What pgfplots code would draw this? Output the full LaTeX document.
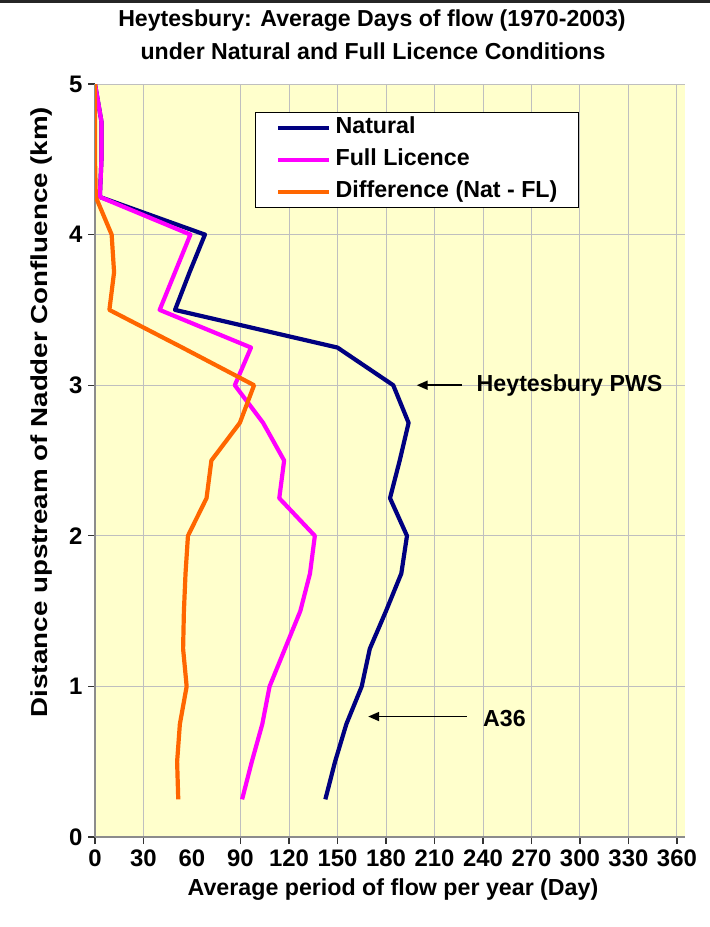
\documentclass[border=0pt]{standalone}
\usepackage{fontspec}
\setmainfont{Liberation Sans}
\usepackage{pgfplots}
\pgfplotsset{compat=1.18}
\usetikzlibrary{arrows.meta}
\definecolor{natc}{HTML}{000080}
\definecolor{flc}{HTML}{FF00FF}
\definecolor{difc}{HTML}{FF6600}
\definecolor{bgc}{HTML}{FFFFCC}
\newcommand\ff[1]{\fontsize{#1}{#1}\selectfont\bfseries}
\begin{document}
\begin{tikzpicture}[x=1bp,y=1bp]
\path[use as bounding box] (0,0) rectangle (710,-927);
\fill[black!85] (0,0) rectangle (710,-3);
\node[font=\ff{23.2}] at (372,-21) {Heytesbury: Average Days of flow (1970-2003)};
\node[font=\ff{23.2}] at (373,-51) {under Natural and Full Licence Conditions};
\node[font=\ff{23.2}, inner sep=0pt] at (42,-412) {\rotatebox{90}{\scalebox{1.2}[1]{Distance upstream of Nadder Confluence (km)}}};
\node[font=\ff{23.3}] at (393,-890) {Average period of flow per year (Day)};
\begin{axis}[
  at={(95bp,-837bp)}, anchor=south west,
  scale only axis, width=590bp, height=753bp,
  xmin=0, xmax=365, ymin=0, ymax=5,
  xtick={0,30,90,120,150,180,210,240,270,300,330,360},
  extra x ticks={60},
  extra x tick style={grid=none, tick style={draw=none}},
  ytick={0,1,2,3,4,5},
  grid=major,
  major grid style={black!25, line width=0.9bp},
  axis background/.style={fill=bgc},
  axis x line*=bottom, axis y line*=left,
  axis line style={black!45, line width=1.2bp},
  tick align=outside,
  major tick length=7bp,
  tick style={black!80, line width=1.2bp},
  ticklabel style={font=\ff{24}},
  /pgf/number format/assume math mode=true,
  xticklabel style={yshift=-2bp},
  yticklabel style={xshift=-2bp},
  legend style={at={(rel axis cs:0.271,0.9628)}, anchor=north west,
    draw=black, line width=1bp, fill=white, font=\ff{23.3},
    inner xsep=21bp, inner ysep=4bp, row sep=9bp, column sep=4bp,
    nodes={inner sep=0bp, text height=17bp, text depth=6bp}},
  legend cell align=left,
  legend image code/.code={\draw[#1, line width=4.2bp] (0bp,0bp) -- (51bp,0bp);},
]
\addplot[natc, line width=4.2bp, line join=round] coordinates {
(0,5) (4,4.75) (4,4.5) (3,4.25) (68,4) (58.5,3.75) (49.5,3.5) (150,3.25)
(184.5,3) (194,2.75) (188.5,2.5) (182.5,2.25) (193,2) (189.5,1.75) (180,1.5)
(170,1.25) (165,1) (155.5,0.75) (148.5,0.5) (142.5,0.25)};
\addlegendentry{Natural}
\addplot[flc, line width=4.2bp, line join=round] coordinates {
(0,5) (4,4.75) (4,4.5) (3,4.25) (59,4) (49.5,3.75) (40,3.5) (96.5,3.25)
(86.5,3) (104,2.75) (117,2.5) (114,2.25) (136,2) (133,1.75) (127,1.5)
(117.5,1.25) (108,1) (103.5,0.75) (97,0.5) (91,0.25)};
\addlegendentry{Full Licence}
\addplot[difc, line width=4.2bp, line join=round] coordinates {
(0,5) (0,4.75) (0,4.5) (0.5,4.25) (10.3,4) (11.8,3.75) (8.9,3.5) (54,3.25)
(98.4,3) (89.6,2.75) (72,2.5) (69,2.25) (57.5,2) (56,1.75) (55,1.5)
(54.5,1.25) (56.7,1) (52.5,0.75) (50.8,0.5) (51.5,0.25)};
\addlegendentry{Difference (Nat - FL)}
\draw[-{Triangle[length=11bp,width=9bp]}, line width=1.8bp] (axis cs:227,3) -- (axis cs:199,3);
\node[font=\ff{23.3}, anchor=west, inner sep=0pt] at (axis cs:236,3) {Heytesbury PWS};
\draw[-{Triangle[length=11bp,width=9bp]}, line width=1.8bp] (axis cs:230,0.8) -- (axis cs:169,0.8);
\node[font=\ff{23.3}, anchor=west, inner sep=0pt] at (axis cs:240,0.79) {A36};
\end{axis}
\end{tikzpicture}
\end{document}
